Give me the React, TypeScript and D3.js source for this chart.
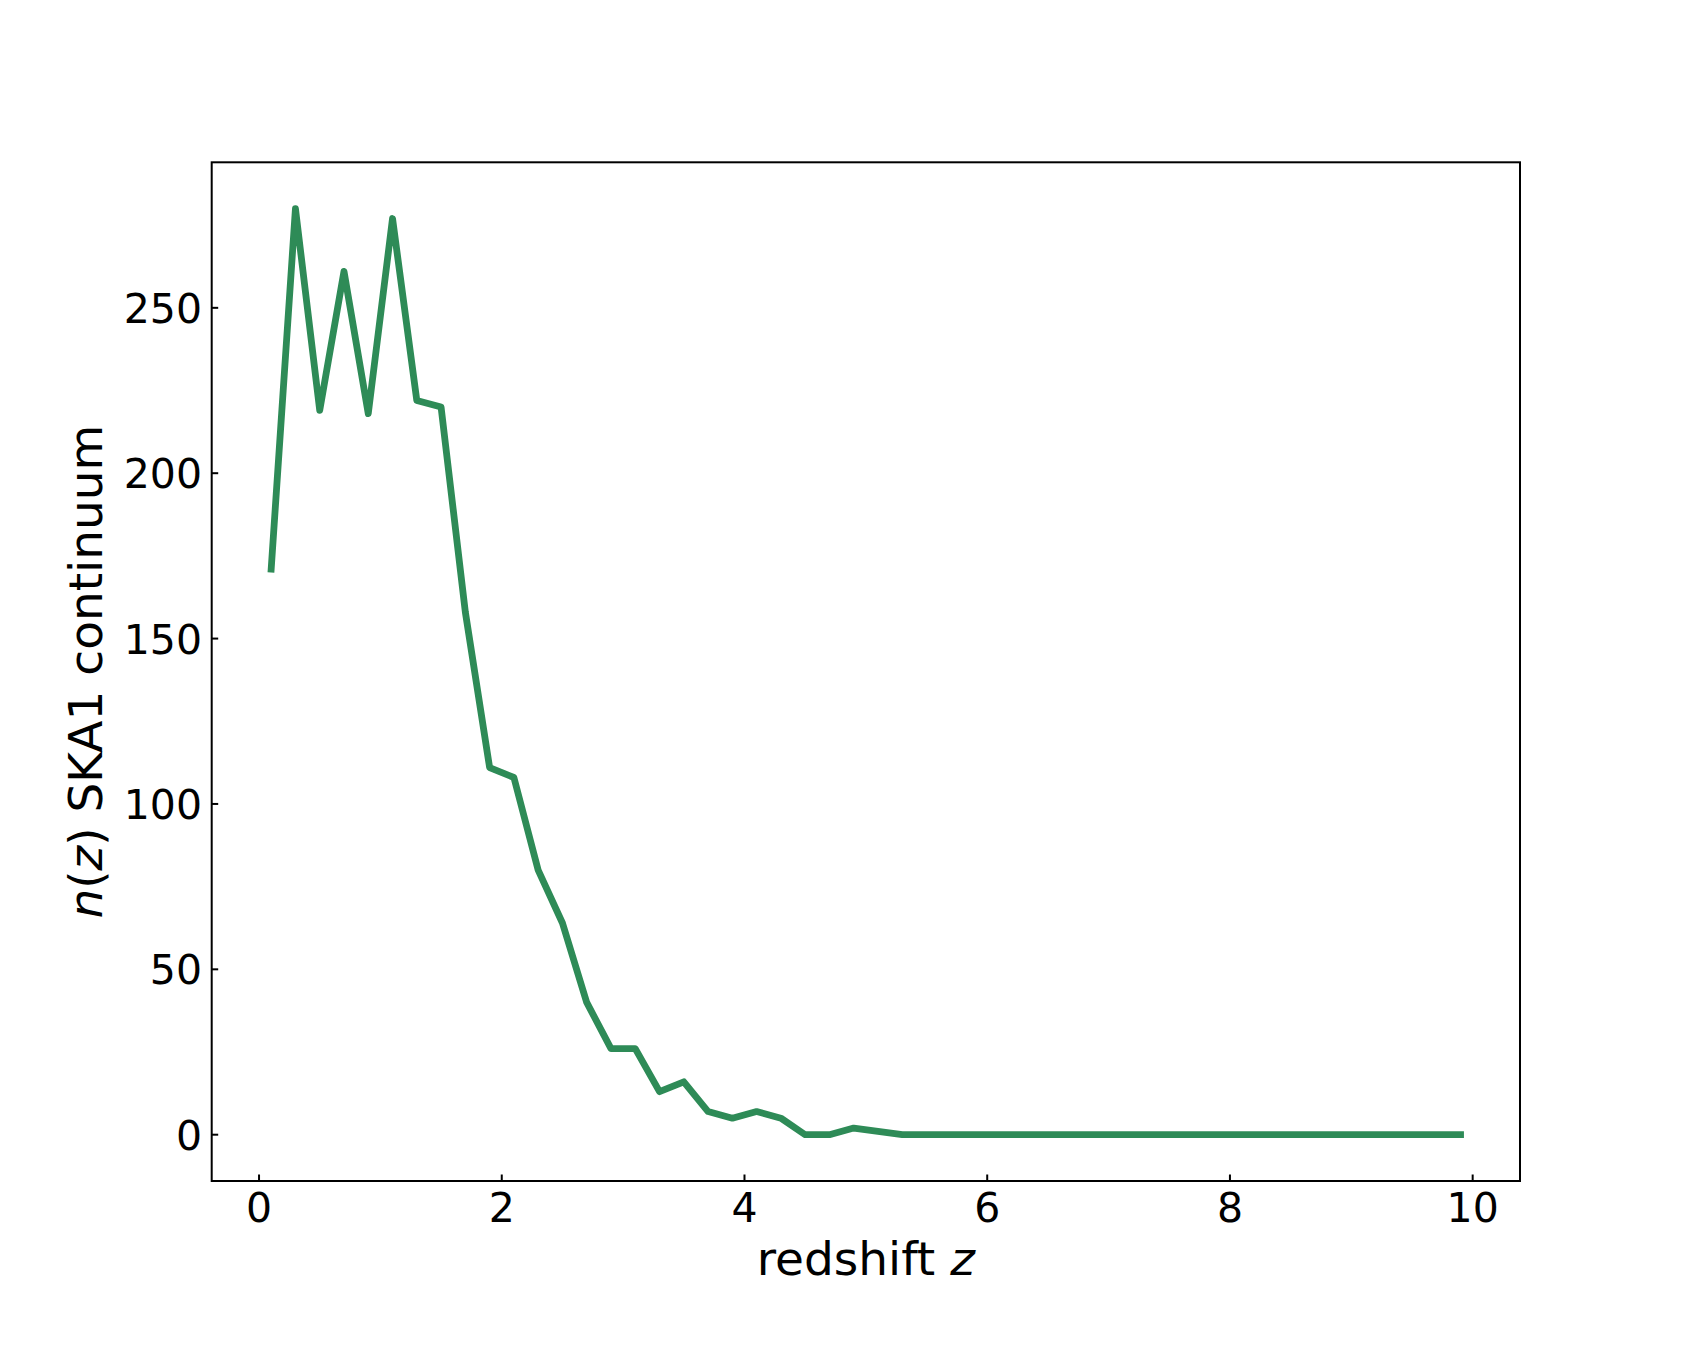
import React from "react";
import * as d3 from "d3";

const redshift: number[] = [
  0.1, 0.3, 0.5, 0.7, 0.9, 1.1, 1.3, 1.5, 1.7, 1.9,
  2.1, 2.3, 2.5, 2.7, 2.9, 3.1, 3.3, 3.5, 3.7, 3.9,
  4.1, 4.3, 4.5, 4.7, 4.9, 5.1, 5.3, 5.5, 5.7, 5.9,
  6.1, 6.3, 6.5, 6.7, 6.9, 7.1, 7.3, 7.5, 7.7, 7.9,
  8.1, 8.3, 8.5, 8.7, 8.9, 9.1, 9.3, 9.5, 9.7, 9.9,
];
const nz: number[] = [
  171, 280, 219, 261, 218, 277, 222, 220, 158, 111,
  108, 80, 64, 40, 26, 26, 13, 16, 7, 5,
  7, 5, 0, 0, 2, 1, 0, 0, 0, 0,
  0, 0, 0, 0, 0, 0, 0, 0, 0, 0,
  0, 0, 0, 0, 0, 0, 0, 0, 0, 0,
];
const xTicks: number[] = [0, 2, 4, 6, 8, 10];
const yTicks: number[] = [0, 50, 100, 150, 200, 250];

const W = 1688;
const H = 1350;
const left = 211.7;
const right = 1520;
const top = 162.3;
const bottom = 1181;
const font = "'DejaVu Sans', sans-serif";
const fs = 41;
const labelFs = 47;

export default function App() {
  const xmin = d3.min(redshift)!;
  const xmax = d3.max(redshift)!;
  const ymin = d3.min(nz)!;
  const ymax = d3.max(nz)!;
  const xm = (xmax - xmin) * 0.05;
  const ym = (ymax - ymin) * 0.05;
  const x = d3.scaleLinear().domain([xmin - xm, xmax + xm]).range([left, right]);
  const y = d3.scaleLinear().domain([ymin - ym, ymax + ym]).range([bottom, top]);
  const line = d3
    .line<number>()
    .x((_, i) => x(redshift[i]))
    .y((d) => y(d));
  const path = line(nz) || "";
  const tickLen = 6.5;
  return (
    <svg
      width={W}
      height={H}
      viewBox={`0 0 ${W} ${H}`}
      style={{ position: "absolute", left: 0, top: 0, background: "#fff" }}
    >
      <rect x={0} y={0} width={W} height={H} fill="#fff" />
      <path
        d={path}
        fill="none"
        stroke="#2e8b57"
        strokeWidth={6.8}
        strokeLinejoin="round"
        strokeLinecap="square"
      />
      <rect
        x={left}
        y={top}
        width={right - left}
        height={bottom - top}
        fill="none"
        stroke="#000"
        strokeWidth={2}
      />
      {xTicks.map((t) => (
        <g key={`x${t}`}>
          <line x1={x(t)} x2={x(t)} y1={bottom} y2={bottom - tickLen} stroke="#000" strokeWidth={2} />
          <text
            x={x(t)}
            y={1221.7}
            textAnchor="middle"
            fontFamily={font}
            fontSize={fs}
            fill="#000"
          >
            {t}
          </text>
        </g>
      ))}
      {yTicks.map((t) => (
        <g key={`y${t}`}>
          <line x1={left} x2={left + tickLen} y1={y(t)} y2={y(t)} stroke="#000" strokeWidth={2} />
          <text
            x={202}
            y={y(t) + 15}
            textAnchor="end"
            fontFamily={font}
            fontSize={fs}
            fill="#000"
          >
            {t}
          </text>
        </g>
      ))}
      <text
        x={(left + right) / 2}
        y={1275}
        textAnchor="middle"
        fontFamily={font}
        fontSize={labelFs}
        fill="#000"
      >
        redshift <tspan fontStyle="italic">z</tspan>
      </text>
      <text
        transform={`translate(101.5, ${(top + bottom) / 2}) rotate(-90)`}
        textAnchor="middle"
        fontFamily={font}
        fontSize={labelFs}
        fill="#000"
      >
        <tspan fontStyle="italic">n</tspan>(<tspan fontStyle="italic">z</tspan>) SKA1 continuum
      </text>
    </svg>
  );
}
